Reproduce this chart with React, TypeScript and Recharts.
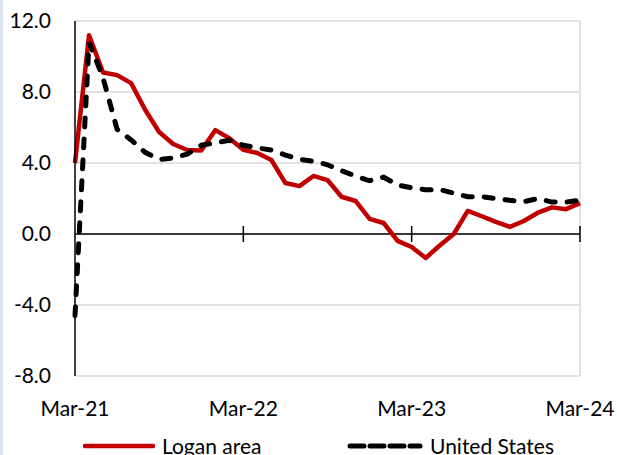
import { LineChart, Line, XAxis, YAxis, CartesianGrid, ReferenceLine, Legend } from "recharts";

const months = [
  "Mar-21", "Apr-21", "May-21", "Jun-21", "Jul-21", "Aug-21", "Sep-21", "Oct-21", "Nov-21", "Dec-21", "Jan-22", "Feb-22",
  "Mar-22", "Apr-22", "May-22", "Jun-22", "Jul-22", "Aug-22", "Sep-22", "Oct-22", "Nov-22", "Dec-22", "Jan-23", "Feb-23",
  "Mar-23", "Apr-23", "May-23", "Jun-23", "Jul-23", "Aug-23", "Sep-23", "Oct-23", "Nov-23", "Dec-23", "Jan-24", "Feb-24",
  "Mar-24",
];

const logan = [
  4.0, 11.2, 9.1, 8.95, 8.5, 7.0, 5.75, 5.07, 4.73, 4.7, 5.85, 5.4,
  4.75, 4.56, 4.17, 2.87, 2.7, 3.27, 3.04, 2.1, 1.86, 0.85, 0.62, -0.39,
  -0.73, -1.35, -0.65, 0.0, 1.3, 1.0, 0.68, 0.4, 0.73, 1.2, 1.5, 1.4,
  1.74,
];

const unitedStates = [
  -4.6, 10.8, 8.8, 5.9, 5.3, 4.6, 4.2, 4.28, 4.5, 5.0, 5.13, 5.28,
  5.0, 4.85, 4.73, 4.45, 4.2, 4.1, 3.9, 3.56, 3.27, 3.0, 3.2, 2.76,
  2.6, 2.5, 2.5, 2.3, 2.1, 2.1, 2.0, 1.9, 1.82, 2.0, 1.8, 1.8,
  1.9,
];

const xTicks = ["Mar-21", "Mar-22", "Mar-23", "Mar-24"];
const yTicks = [-8, -4, 0, 4, 8, 12];

const data = months.map((m, i) => ({ m, logan: logan[i], us: unitedStates[i] }));

const FONT = "Lato, 'Open Sans', sans-serif";
const RED = "#C00000";

function ChartLegend() {
  return (
    <div style={{ position: "relative", width: 617, height: 30, fontFamily: FONT, fontSize: 21, lineHeight: "30px", color: "#000" }}>
      <div style={{ position: "absolute", left: 83, top: 0, display: "flex", alignItems: "center" }}>
        <svg width={72} height={30}>
          <line x1={2} y1={15} x2={70} y2={15} stroke={RED} strokeWidth={4.5} strokeLinecap="round" />
        </svg>
        <span style={{ marginLeft: 7 }}>Logan area</span>
      </div>
      <div style={{ position: "absolute", left: 346, top: 0, display: "flex", alignItems: "center" }}>
        <svg width={78} height={30}>
          <line x1={4} y1={15} x2={74} y2={15} stroke="#000" strokeWidth={5} strokeDasharray="14 6" strokeLinecap="round" />
        </svg>
        <span style={{ marginLeft: 6 }}>United States</span>
      </div>
    </div>
  );
}

export default function App() {
  return (
    <div style={{ position: "relative", width: 617, height: 455, overflow: "hidden", background: "#fff" }}>
      <style>{`body{margin:0}`}</style>
      <LineChart width={617} height={455} data={data} margin={{ top: 21, right: 37, left: 0, bottom: -6 }}>
        <CartesianGrid vertical={false} stroke="#d9d9d9" strokeWidth={1.5} />
        <XAxis
          dataKey="m"
          ticks={xTicks}
          interval={0}
          axisLine={false}
          tickLine={false}
          tickSize={0}
          tickMargin={25}
          height={55}
          tick={{ fontSize: 21, fill: "#000", fontFamily: FONT }}
        />
        <YAxis
          domain={[-8, 12]}
          ticks={yTicks}
          width={75}
          tickFormatter={(v: number) => v.toFixed(1)}
          axisLine={{ stroke: "#000", strokeWidth: 1.5 }}
          tickLine={false}
          tickSize={0}
          tickMargin={24}
          tick={{ fontSize: 21, fill: "#000", fontFamily: FONT }}
        />
        <ReferenceLine x="Mar-24" stroke="#d9d9d9" strokeWidth={1.5} />
        <ReferenceLine y={0} stroke="#000" strokeWidth={1.5} />
        {xTicks.slice(1).map((t) => (
          <ReferenceLine key={t} segment={[{ x: t, y: -0.45 }, { x: t, y: 0.45 }]} stroke="#000" strokeWidth={1.5} />
        ))}
        <Line type="linear" dataKey="logan" stroke={RED} strokeWidth={4.5} dot={false} isAnimationActive={false} strokeLinejoin="round" />
        <Line type="linear" dataKey="us" stroke="#000" strokeWidth={5} dot={false} isAnimationActive={false} strokeDasharray="9 12" strokeLinecap="round" />
        <Legend verticalAlign="bottom" content={<ChartLegend />} wrapperStyle={{ left: 0, width: 617 }} />
      </LineChart>
      <div style={{ position: "absolute", left: 0, top: 0, width: 3, height: 455, background: "#dae3f3" }} />
    </div>
  );
}
